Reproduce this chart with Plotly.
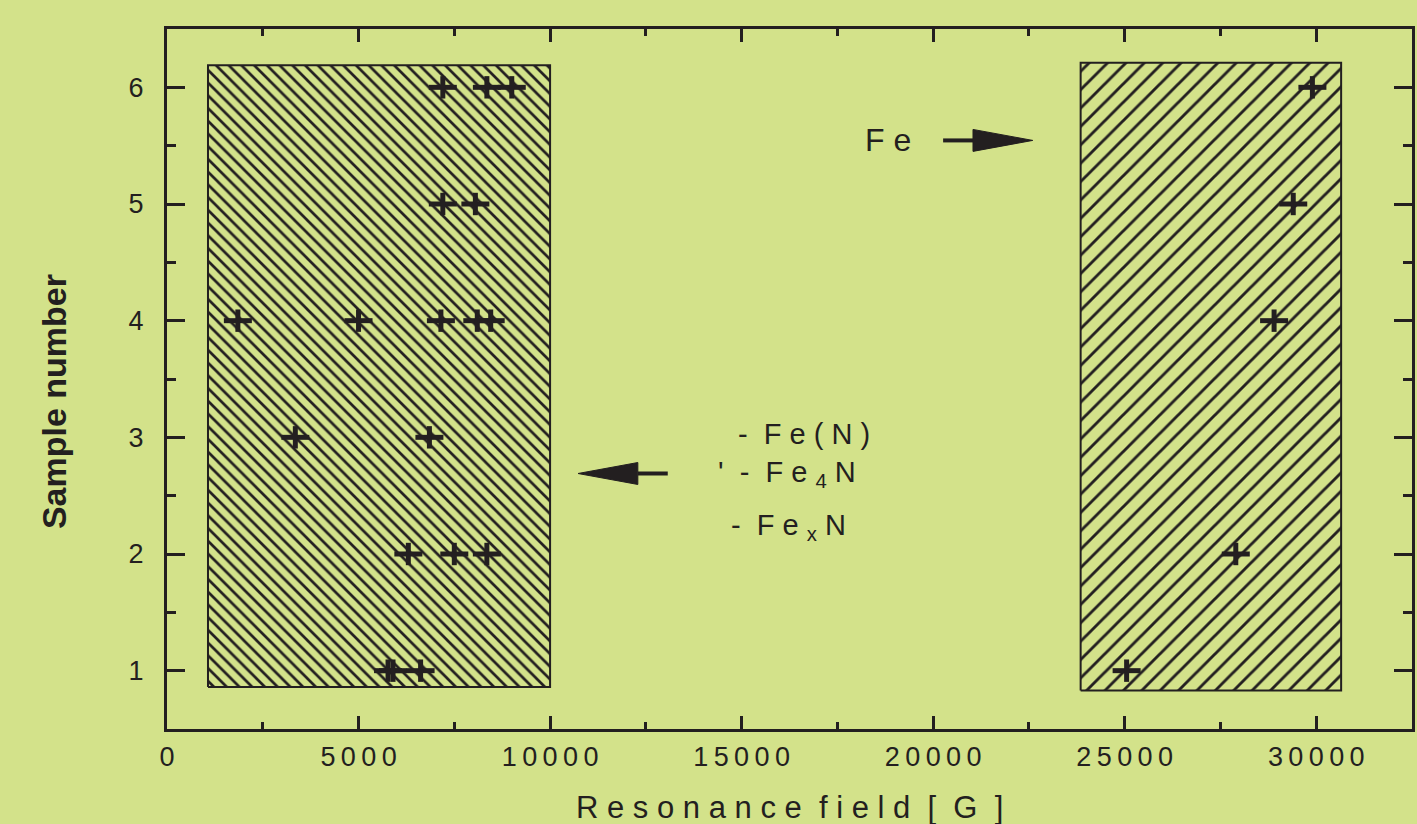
import plotly.graph_objects as go

# ---- data ----
low_x = [7200, 8350, 9000, 7200, 8050, 1850, 5000, 7150, 8100, 8450, 3350, 6850, 6300, 7500, 8350, 5770, 5900, 6620]
low_y = [6, 6, 6, 5, 5, 4, 4, 4, 4, 4, 3, 3, 2, 2, 2, 1, 1, 1]
fe_x = [29900, 29400, 28900, 27900, 25050]
fe_y = [6, 5, 4, 2, 1]

left_box = dict(x0=1070, x1=10000, y0=0.86, y1=6.19)
right_box = dict(x0=23850, x1=30650, y0=0.83, y1=6.21)

x_ticks = [0, 5000, 10000, 15000, 20000, 25000, 30000]
y_ticks = [1, 2, 3, 4, 5, 6]

BG = "#d3e28a"
INK = "#231f20"
FONT = "Liberation Sans"
SP = "\u2009"   # thin space
NB = "\u00a0"   # non-breaking space


def spaced(s, sep=SP):
    return sep.join(list(s))


fig = go.Figure()


def box_trace(b, shape, size, sol):
    return go.Scatter(
        x=[b["x0"], b["x1"], b["x1"], b["x0"], b["x0"]],
        y=[b["y0"], b["y0"], b["y1"], b["y1"], b["y0"]],
        mode="lines", fill="toself", line=dict(color=INK, width=2),
        fillcolor=BG,
        fillpattern=dict(shape=shape, size=size, solidity=sol, fgcolor=INK, bgcolor=BG, fillmode="replace"),
        hoverinfo="skip", showlegend=False,
    )


fig.add_trace(box_trace(left_box, "\\", 9, 0.3))
fig.add_trace(box_trace(right_box, "/", 13, 0.22))

all_x = low_x + fe_x
all_y = low_y + fe_y
fig.add_trace(go.Scatter(x=all_x, y=all_y, mode="markers", showlegend=False, hoverinfo="skip",
                         marker=dict(symbol="line-ew", size=20, line=dict(color=INK, width=5))))
fig.add_trace(go.Scatter(x=all_x, y=all_y, mode="markers", showlegend=False, hoverinfo="skip",
                         marker=dict(symbol="line-ns", size=16, line=dict(color=INK, width=5))))

# arrows (decorations)
fe_arrow = dict(x_start=20260, x_base=21040, x_tip=22600, y=5.545, half=0.094)
fn_arrow = dict(x_start=13072, x_base=12291, x_tip=10729, y=2.69, half=0.094)
for a in (fe_arrow, fn_arrow):
    fig.add_shape(type="line", x0=a["x_start"], x1=a["x_base"], y0=a["y"], y1=a["y"],
                  line=dict(color=INK, width=4))
    fig.add_shape(type="path",
                  path=f"M {a['x_base']},{a['y'] - a['half']} L {a['x_tip']},{a['y']} L {a['x_base']},{a['y'] + a['half']} Z",
                  fillcolor=INK, line=dict(color=INK, width=1))

fig.add_annotation(x=18830, y=5.545, text="F" + NB + "e", showarrow=False,
                   font=dict(family=FONT, size=32, color=INK), xanchor="center", yanchor="middle")

legend_font = dict(family=FONT, size=29, color=INK)
fig.add_annotation(x=14843, y=3.03, text="-" + NB * 2 + spaced("Fe(N)", NB), showarrow=False,
                   font=legend_font, xanchor="left", yanchor="middle")
fig.add_annotation(x=14322, y=2.69,
                   text="'" + NB * 2 + "-" + NB * 2 + "F" + NB + "e" + NB + "<sub>4</sub>" + NB + "N",
                   showarrow=False, font=legend_font, xanchor="left", yanchor="middle")
fig.add_annotation(x=14660, y=2.23,
                   text="-" + NB * 2 + "F" + NB + "e" + NB + "<sub>x</sub>" + NB + "N", showarrow=False,
                   font=legend_font, xanchor="left", yanchor="middle")

# axis titles
fig.add_annotation(x=0.5, y=0, xref="paper", yref="paper", yshift=-78,
                   text=spaced("Resonance", NB) + NB * 2 + spaced("field", NB) + NB * 2
                   + "[" + NB * 2 + "G" + NB * 2 + "]",
                   showarrow=False, font=dict(family=FONT, size=31, color=INK),
                   xanchor="center", yanchor="middle")
fig.add_annotation(x=0, y=0.467, xref="paper", yref="paper", xshift=-113,
                   text="Sample number", textangle=-90, showarrow=False,
                   font=dict(family=FONT, size=34, color=INK, weight="bold"),
                   xanchor="center", yanchor="middle")

axis_common = dict(showgrid=False, zeroline=False, showline=True, linecolor=INK, linewidth=3,
                   mirror="allticks", ticks="inside", tickwidth=3, tickcolor=INK,
                   tickfont=dict(family=FONT, size=27, color=INK))

fig.update_xaxes(range=[0, 32500], tickvals=x_ticks, ticktext=[spaced(str(v)) for v in x_ticks],
                 ticklen=13, ticklabelstandoff=2,
                 minor=dict(dtick=2500, ticks="inside", ticklen=7, tickwidth=3, tickcolor=INK),
                 **axis_common)
fig.update_yaxes(range=[0.5, 6.5], tickvals=y_ticks, ticktext=[str(v) for v in y_ticks],
                 ticklen=18, ticklabelstandoff=15,
                 minor=dict(dtick=0.5, ticks="inside", ticklen=9, tickwidth=3, tickcolor=INK),
                 **axis_common)

fig.update_layout(width=1417, height=824, paper_bgcolor=BG, plot_bgcolor=BG,
                  margin=dict(l=167, r=2, t=29, b=95), showlegend=False)

fig.write_html("out.html", config={"displayModeBar": False},
               post_script="document.body.style.margin='0';document.body.style.overflow='hidden';")
